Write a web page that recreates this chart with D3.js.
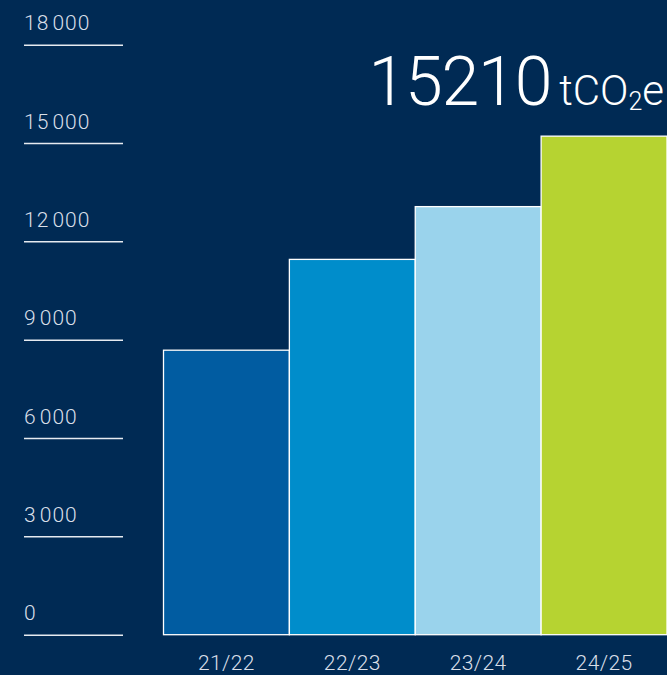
<!DOCTYPE html>
<html><head><meta charset="utf-8">
<script src="https://cdn.jsdelivr.net/npm/d3@7"></script>
<style>
html,body{margin:0;padding:0;background:#002a54;overflow:hidden;}
svg{display:block;}
</style></head>
<body>
<script>
const categories = ["21/22", "22/23", "23/24", "24/25"];
const values = [8680, 11450, 13060, 15210];
const barColors = ["#015ca1", "#008dcb", "#9ad3ec", "#b6d331"];
const yTicks = [0, 3000, 6000, 9000, 12000, 15000, 18000];
const tickLabels = ["0", "3\u200A000", "6\u200A000", "9\u200A000", "12\u200A000", "15\u200A000", "18\u200A000"];
const headline = "15210";
const unit = ["tCO", "2", "e"];

const W = 667, H = 675;
const svg = d3.select("body").append("svg").attr("width", W).attr("height", H);
svg.append("rect").attr("width", W).attr("height", H).attr("fill", "#002a54");

const y = d3.scaleLinear().domain([0, 18000]).range([634.7, 44.7]);
const x = d3.scaleBand().domain(categories).range([163.5, 667]).padding(0);

// y axis: horizontal tick rules with labels above
const yAxis = d3.axisRight(y).tickValues(yTicks).tickSize(99)
  .tickFormat((d, i) => tickLabels[i]);
const ga = svg.append("g").attr("transform", "translate(24,0)").call(yAxis);
ga.select(".domain").remove();
ga.selectAll(".tick line").attr("stroke", "#e6eaf0").attr("stroke-width", 1.5);
ga.selectAll(".tick text")
  .attr("x", 0).attr("dy", "-15").attr("text-anchor", "start")
  .attr("fill", "#d9dfe8").style("font-family", "Roboto, 'Liberation Sans', sans-serif")
  .style("font-size", "21px").style("font-weight", 300).style("letter-spacing", "1px");

// bars
svg.append("g").selectAll("rect").data(values).join("rect")
  .attr("x", (d, i) => x(categories[i]))
  .attr("y", d => y(d))
  .attr("width", x.bandwidth())
  .attr("height", d => y(0) - y(d))
  .attr("fill", (d, i) => barColors[i])
  .attr("stroke", "#ffffff").attr("stroke-width", 1.3);

// x axis labels
const xAxis = d3.axisBottom(x).tickSize(0);
const gx = svg.append("g").attr("transform", "translate(0,634.7)").call(xAxis);
gx.select(".domain").remove();
gx.selectAll(".tick text").attr("y", 35).attr("dy", 0)
  .attr("fill", "#d9dfe8").style("font-family", "Roboto, 'Liberation Sans', sans-serif")
  .style("font-size", "21px").style("font-weight", 300).style("letter-spacing", "0.4px");

// headline value
const t = svg.append("text").attr("x", 664).attr("y", 105).attr("text-anchor", "end")
  .attr("fill", "#ffffff").style("font-family", "Roboto, 'Liberation Sans', sans-serif")
  .style("font-weight", 300);
t.append("tspan").text(headline).style("font-size", "68px").style("letter-spacing", "-1.2px");
t.append("tspan").text(unit[0]).attr("dx", 8).style("font-size", "42px");
t.append("tspan").text(unit[1]).attr("dy", 5).style("font-size", "25px");
t.append("tspan").text(unit[2]).attr("dy", -5).style("font-size", "42px");
</script>
</body></html>
